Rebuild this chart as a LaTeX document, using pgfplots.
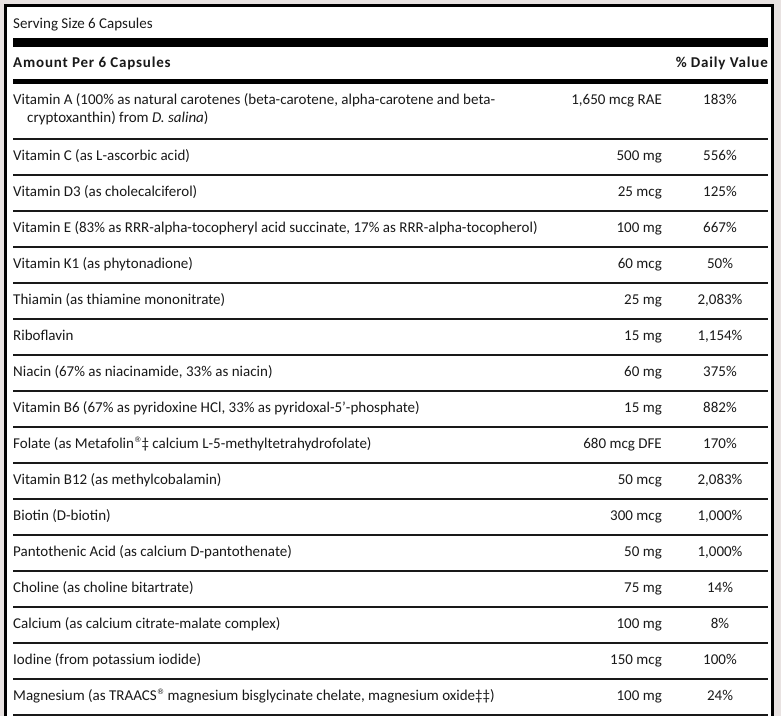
\documentclass[border=0pt]{standalone}
\usepackage{pgfplots}
\pgfplotsset{compat=1.18}
\usepackage{fontspec}
\setmainfont{Carlito}
\newfontfamily\hdfont[LetterSpace=5.5]{Carlito}
\newfontfamily\symfont{DejaVu Sans}
\definecolor{bg}{RGB}{232,226,225}
\definecolor{ink}{RGB}{25,25,25}
\newcommand{\fs}{\fontsize{15}{17}\selectfont}
\newcommand{\reg}{\raisebox{0.7ex}{\symfont\fontsize{7.5}{8}\selectfont ®}}
\tikzset{t/.style={font=\fs, text=ink, inner sep=0pt}}
\begin{document}
\begin{tikzpicture}
\begin{axis}[scale only axis, width=781pt, height=716pt,
  xmin=0, xmax=781, ymin=0, ymax=716, y dir=reverse,
  hide axis, clip=false, unbounded coords=jump]
% background and panel
\addplot[fill=bg, draw=none] coordinates {(0,0) (781,0) (781,716) (0,716)} -- cycle;
\addplot[fill=white, draw=none] coordinates {(5,5) (773,5) (773,716) (5,716)} -- cycle;
\addplot[black, line width=2.5pt] coordinates {(5.3,716) (5.3,5.3) (772.7,5.3) (772.7,716)};
% thick bars
\addplot[fill=black, draw=none] coordinates {(13,38.3) (768,38.3) (768,47.3) (13,47.3)} -- cycle;
\addplot[fill=black, draw=none] coordinates {(13,78.8) (768,78.8) (768,83.5) (13,83.5)} -- cycle;
% thin row rules
\addplot[ink, line width=1.1pt] coordinates {
 (13,139) (768,139) (nan,nan)
 (13,175) (768,175) (nan,nan)
 (13,211) (768,211) (nan,nan)
 (13,247) (768,247) (nan,nan)
 (13,283) (768,283) (nan,nan)
 (13,319) (768,319) (nan,nan)
 (13,355) (768,355) (nan,nan)
 (13,391) (768,391) (nan,nan)
 (13,427) (768,427) (nan,nan)
 (13,463) (768,463) (nan,nan)
 (13,499) (768,499) (nan,nan)
 (13,535) (768,535) (nan,nan)
 (13,571) (768,571) (nan,nan)
 (13,607) (768,607) (nan,nan)
 (13,643) (768,643) (nan,nan)
 (13,679) (768,679) (nan,nan)
 (13,715) (768,715)};
% header
\node[t, anchor=base west] at (axis cs:13,28.5) {Serving Size 6 Capsules};
\node[t, anchor=base west, font=\fs\hdfont\bfseries] at (axis cs:13,67.5) {Amount Per 6 Capsules};
\node[t, anchor=base east, font=\fs\hdfont\bfseries] at (axis cs:768,67.5) {\% Daily Value};
% Vitamin A
\node[t, anchor=base west] at (axis cs:13,104.5) {Vitamin A (100\% as natural carotenes (beta-carotene, alpha-carotene and beta-};
\node[t, anchor=base west] at (axis cs:27,122.5) {cryptoxanthin) from \textit{D. salina})};
\node[t, anchor=base east] at (axis cs:662,104.5) {1,650 mcg RAE};
\node[t, anchor=base] at (axis cs:720,104.5) {183\%};
% rows
\newcommand{\nrow}[4]{%
  \node[t, anchor=base west] at (axis cs:13,#1) {#2};
  \node[t, anchor=base east] at (axis cs:662,#1) {#3};
  \node[t, anchor=base] at (axis cs:720,#1) {#4};}
\nrow{160}{Vitamin C (as L-ascorbic acid)}{500 mg}{556\%}
\nrow{196}{Vitamin D3 (as cholecalciferol)}{25 mcg}{125\%}
\nrow{232}{Vitamin E (83\% as RRR-alpha-tocopheryl acid succinate, 17\% as RRR-alpha-tocopherol)}{100 mg}{667\%}
\nrow{268}{Vitamin K1 (as phytonadione)}{60 mcg}{50\%}
\nrow{304}{Thiamin (as thiamine mononitrate)}{25 mg}{2,083\%}
\nrow{340}{Riboflavin}{15 mg}{1,154\%}
\nrow{376}{Niacin (67\% as niacinamide, 33\% as niacin)}{60 mg}{375\%}
\nrow{412}{Vitamin B6 (67\% as pyridoxine HCl, 33\% as pyridoxal-5’-phosphate)}{15 mg}{882\%}
\nrow{448}{Folate (as Metafolin\reg‡ calcium L-5-methyltetrahydrofolate)}{680 mcg DFE}{170\%}
\nrow{484}{Vitamin B12 (as methylcobalamin)}{50 mcg}{2,083\%}
\nrow{520}{Biotin (D-biotin)}{300 mcg}{1,000\%}
\nrow{556}{Pantothenic Acid (as calcium D-pantothenate)}{50 mg}{1,000\%}
\nrow{592}{Choline (as choline bitartrate)}{75 mg}{14\%}
\nrow{628}{Calcium (as calcium citrate-malate complex)}{100 mg}{8\%}
\nrow{664}{Iodine (from potassium iodide)}{150 mcg}{100\%}
\nrow{700}{Magnesium (as TRAACS\reg{} magnesium bisglycinate chelate, magnesium oxide‡‡)}{100 mg}{24\%}
\end{axis}
\end{tikzpicture}
\end{document}
